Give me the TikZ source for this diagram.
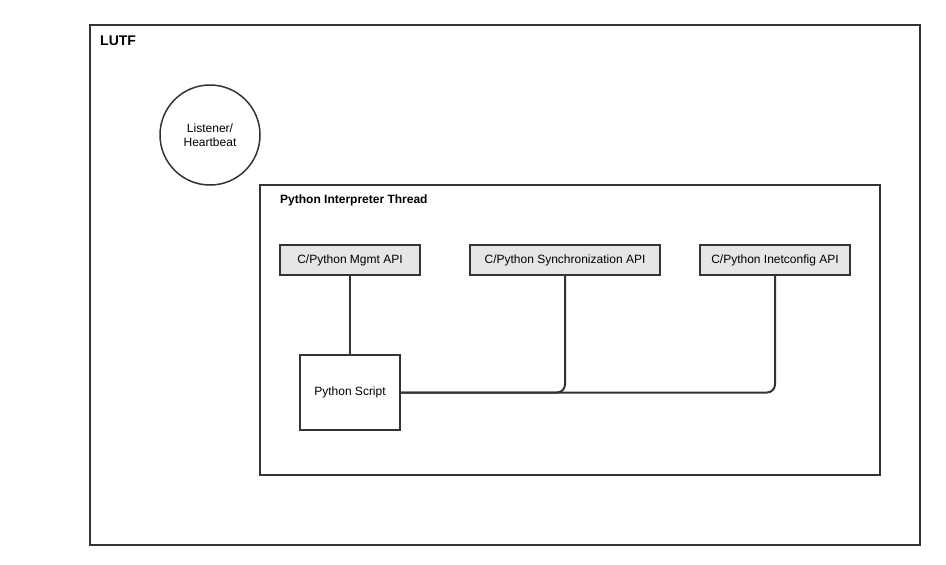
\documentclass[tikz,border=0pt]{standalone}
\usepackage{fontspec}
\setmainfont{Liberation Sans}
\usetikzlibrary{positioning, calc}
\definecolor{edgegray}{HTML}{333333}
\definecolor{apifill}{HTML}{E6E6E6}

\begin{document}
\begin{tikzpicture}[
  x=1pt, y=-1pt,
  frame/.style={draw=edgegray, line width=1.5pt},
  apibox/.style={rectangle, draw=edgegray, line width=1.5pt, fill=apifill, minimum height=30pt, inner sep=0pt, font=\fontsize{12}{14}\selectfont},
  scriptbox/.style={rectangle, draw=edgegray, line width=1.5pt, fill=white, minimum width=100pt, minimum height=75pt, inner sep=0pt, font=\fontsize{12}{14}\selectfont},
  link/.style={draw=edgegray, line width=2pt, rounded corners=8pt}
]
  \useasboundingbox[fill=white] (0,0) rectangle (946,565);

  % outer frame and thread frame
  \draw[frame] (90,25) rectangle (920,545);
  \node[anchor=west, font=\fontsize{14}{16}\selectfont\bfseries, inner sep=0pt] (lutf) at (100,41) {LUTF};
  \draw[frame] (260,185) rectangle (880,475);
  \node[anchor=west, font=\fontsize{12}{14}\selectfont\bfseries, inner sep=0pt] (thread) at (280,200) {Python Interpreter Thread};

  \node[circle, draw=edgegray, line width=1.5pt, minimum size=100pt, inner sep=0pt, align=center, font=\fontsize{12}{14}\selectfont] (listener) at (210,135) {Listener/\\Heartbeat};

  % API boxes
  \node[apibox, minimum width=140pt] (mgmt) at (350,260) {C/Python Mgmt API};
  \node[apibox, minimum width=190pt] (sync) at (565,260) {C/Python Synchronization API};
  \node[apibox, minimum width=150pt] (inet) at (775,260) {C/Python Inetconfig API};

  \node[scriptbox] (script) at (350,392.5) {Python Script};

  \draw[link] (mgmt) -- (script);
  \draw[link] (script.east) -- (sync.south |- script.east) -- (sync.south);
  \draw[link] (script.east) -- (inet.south |- script.east) -- (inet.south);
\end{tikzpicture}
\end{document}
